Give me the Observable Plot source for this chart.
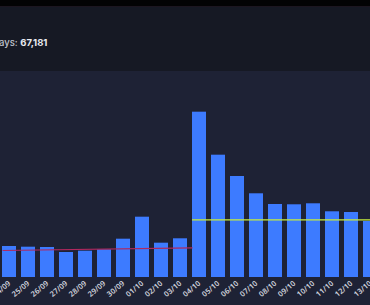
<!DOCTYPE html>
<html>
<head>
<meta charset="utf-8">
<script src="https://cdn.jsdelivr.net/npm/d3@7"></script>
<script src="https://cdn.jsdelivr.net/npm/@observablehq/plot@0.6"></script>
<style>
  html, body { margin: 0; padding: 0; width: 370px; height: 305px; overflow: hidden; background: #1e2235; font-family: Inter, "Noto Sans", sans-serif; }
  #topbar { position: absolute; left: 0; top: 0; width: 370px; height: 6px; background: #030304; }
  #header { position: absolute; left: 0; top: 6px; width: 370px; height: 65px; background: #161924; border-top: 1px solid #1c1620; box-sizing: border-box; }
  #total { position: absolute; left: -1px; top: 30px; font-size: 9.5px; color: #c0c4ce; white-space: nowrap; font-weight: 500; }
  #total b { color: #e8eaf0; font-weight: 700; }
  #chart { position: absolute; left: 0; top: 71px; width: 370px; height: 234px; }
</style>
</head>
<body>
<div id="topbar"></div>
<div id="header"><div id="total">ays: <b>67,181</b></div></div>
<div id="chart"></div>
<script>
const dates = ["24/09","25/09","26/09","27/09","28/09","29/09","30/09","01/10","02/10","03/10","04/10","05/10","06/10","07/10","08/10","09/10","10/10","11/10","12/10","13/10"];
const values = [1395,1364,1350,1125,1184,1247,1724,2714,1544,1742,7439,5504,4545,3767,3285,3272,3317,2957,2925,2520];
const beforeTrend = [1214, 1337];     // red line: start / end value (24/09 -> 04/10)
const afterAverage = 2597;            // green line value from 04/10 on

const data = dates.map((d, i) => ({date: d, value: values[i]}));

const chart = Plot.plot({
  width: 370,
  height: 234,
  marginTop: 6,
  marginBottom: 28,
  marginLeft: 0,
  marginRight: 0,
  style: {background: "transparent", color: "#d0d3dc", overflow: "hidden"},
  x: {domain: dates, range: [-6.33, 385.6], padding: 0.276},
  y: {domain: [0, 9000], axis: null},
  marks: [
    Plot.barY(data, {x: "date", y: "value", fill: "#3d7bff"}),
    Plot.link([{x1: dates[0], x2: "04/10", y1: beforeTrend[0], y2: beforeTrend[1]}], {x1: "x1", x2: "x2", y1: "y1", y2: "y2", stroke: "#b0285e", strokeWidth: 1.2, dx: -7}),
    Plot.ruleY([{v: afterAverage}], {y: "v", x1: () => "04/10", x2: () => dates[dates.length - 1], stroke: "#c8ee3a", strokeWidth: 1.2, insetLeft: 0, insetRight: -20}),
    Plot.axisX({tickRotate: -40, tickSize: 0, tickPadding: 5, fontSize: 7.5, fill: "#d0d3dc", label: null, fontWeight: 600})
  ]
});
document.getElementById("chart").appendChild(chart);
</script>
</body>
</html>
